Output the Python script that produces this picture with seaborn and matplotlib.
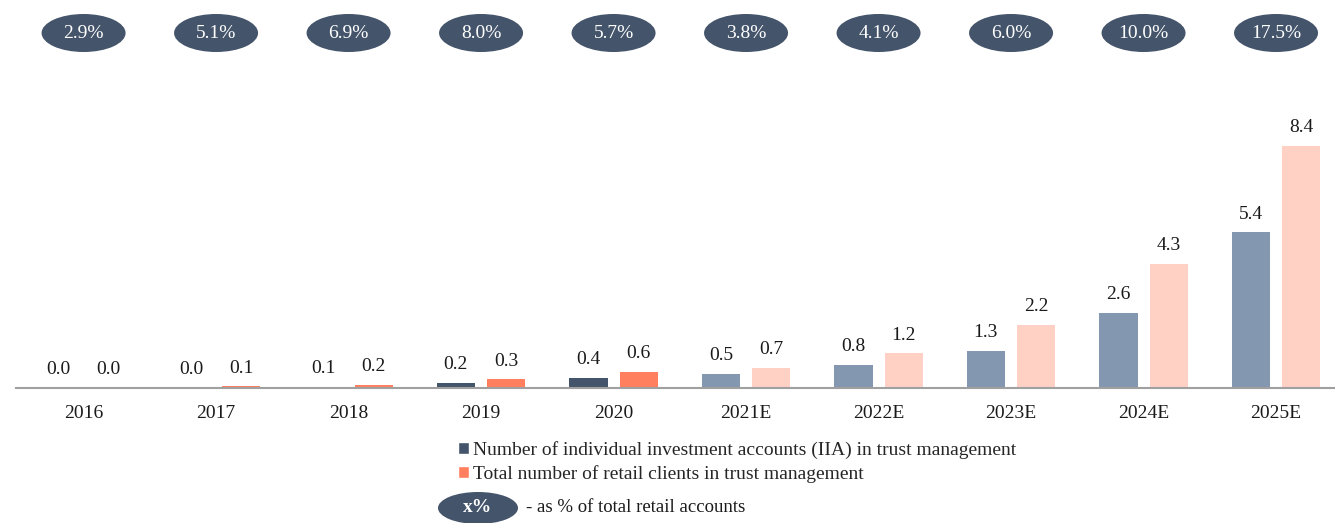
import matplotlib
matplotlib.use("Agg")
import matplotlib.pyplot as plt
from matplotlib.patches import Ellipse, Patch
import seaborn as sns
import pandas as pd

# data
years = ["2016", "2017", "2018", "2019", "2020", "2021E", "2022E", "2023E", "2024E", "2025E"]
iia = [0.0, 0.0, 0.1, 0.2, 0.4, 0.5, 0.8, 1.3, 2.6, 5.4]
retail = [0.0, 0.1, 0.2, 0.3, 0.6, 0.7, 1.2, 2.2, 4.3, 8.4]
iia_display = [0.0, 0.02, 0.05, 0.17, 0.35, 0.5, 0.8, 1.3, 2.6, 5.4]
retail_display = [0.0, 0.06, 0.12, 0.3, 0.55, 0.7, 1.2, 2.2, 4.3, 8.4]
share_pct = ["2.9%", "5.1%", "6.9%", "8.0%", "5.7%", "3.8%", "4.1%", "6.0%", "10.0%", "17.5%"]
n_actual = 5

s_iia = "Number of individual investment accounts (IIA) in trust management"
s_ret = "Total number of retail clients in trust management"

dark, coral = "#44546A", "#FF7F5F"
light_dark, light_coral = "#8497B0", "#FFD1C5"
FS = 14

df = pd.DataFrame({
    "year": years * 2,
    "value": iia_display + retail_display,
    "series": [s_iia] * len(years) + [s_ret] * len(years),
})

sns.set_style("white")
plt.rcParams["font.family"] = ["Liberation Serif", "DejaVu Serif"]

fig = plt.figure(figsize=(13.35, 5.23), dpi=100)
ax = fig.add_axes([16 / 1335, (523 - 388) / 523, 1 - 16 / 1335, 388 / 523])

sns.barplot(data=df, x="year", y="value", hue="series", palette=[dark, coral],
            saturation=1, width=0.76, gap=0.24, legend=False, ax=ax)

# forecast years use lighter colours
for cont, light, vals in zip(ax.containers, [light_dark, light_coral], [iia, retail]):
    for i, bar in enumerate(cont):
        bar.set_edgecolor("none")
        if i >= n_actual:
            bar.set_facecolor(light)
    ax.bar_label(cont, labels=[f"{v:.1f}" for v in vals], padding=7, fontsize=FS, color="#1a1a1a")

ax.set_xlim(-0.51, 9.445)
ax.set_ylim(0, 388 / 28.8)
ax.set_xlabel("")
ax.set_ylabel("")
ax.set_yticks([])
ax.tick_params(axis="x", length=0, pad=12, labelsize=FS, labelcolor="#1a1a1a")
for side in ["top", "right", "left"]:
    ax.spines[side].set_visible(False)
ax.spines["bottom"].set_color("#A0A0A0")
ax.spines["bottom"].set_linewidth(1.5)

# share ellipses on top
y_ell = (388 - 33) / 28.8
for i, p in enumerate(share_pct):
    ax.add_patch(Ellipse((i, y_ell), 84 / 132.5, 38 / 28.8, facecolor=dark, edgecolor="none", clip_on=False))
    ax.text(i, y_ell, p, ha="center", va="center", color="white", fontsize=FS)

# legend
handles = [Patch(facecolor=dark, label=s_iia), Patch(facecolor=coral, label=s_ret)]
fig.legend(handles=handles, loc="upper left", bbox_to_anchor=(458 / 1335, 1 - 441 / 523),
           frameon=False, fontsize=FS, handlelength=0.55, handleheight=0.55,
           handletextpad=0.2, labelspacing=0.3, borderaxespad=0, borderpad=0)

fig.add_artist(Ellipse((478 / 1335, 1 - 508 / 523), 80 / 1335, 32 / 523,
                       transform=fig.transFigure, facecolor=dark, edgecolor="none"))
fig.text(478 / 1335, 1 - 508 / 523, "x%", ha="center", va="center", color="white",
         fontsize=FS, fontweight="bold")
fig.text(526 / 1335, 1 - 508 / 523, "- as % of total retail accounts", ha="left",
         va="center", color="#1a1a1a", fontsize=FS - 0.5)

fig.savefig("out.png", dpi=100)
